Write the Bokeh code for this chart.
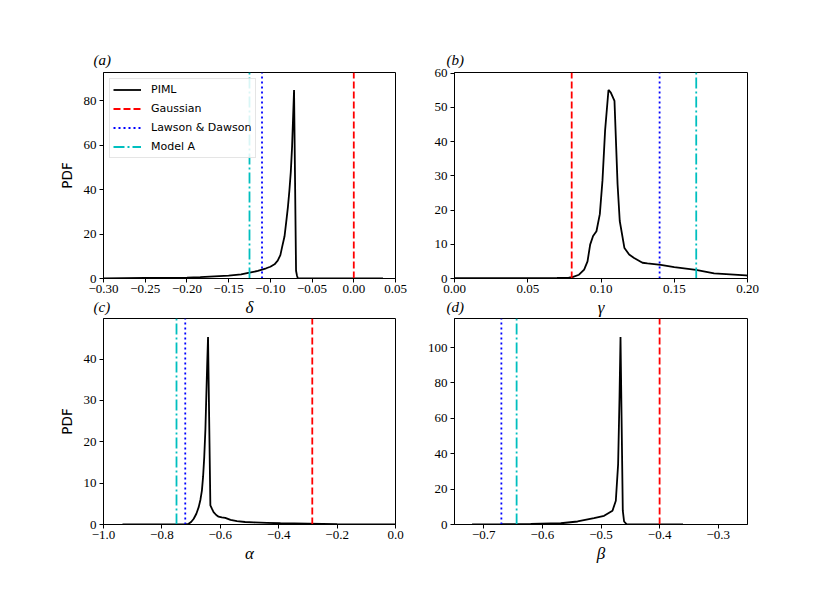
from bokeh.plotting import figure
from bokeh.layouts import column, row
from bokeh.models import Range1d, FixedTicker
from bokeh.embed import file_html
from bokeh.resources import INLINE

# ---------------- data ----------------
# (a) delta
delta_x = [-0.30, -0.25, -0.20, -0.184, -0.15, -0.135, -0.125, -0.115, -0.11, -0.105,
           -0.10, -0.095, -0.0912, -0.088, -0.086, -0.083, -0.0808, -0.079, -0.0772,
           -0.0755, -0.074, -0.0728, -0.0716, -0.0692, -0.0682, -0.0672, -0.066,
           -0.05, 0.0, 0.035]
delta_pdf = [0.1, 0.25, 0.4, 0.6, 1.3, 1.9, 2.6, 3.4, 4.0, 4.6,
             5.3, 6.4, 8.0, 10.5, 14.0, 19.0, 26.0, 32.0, 39.5,
             48.0, 59.0, 72.0, 84.8, 3.5, 1.5, 0.2, 0.05,
             0.05, 0.05, 0.05]

# (b) gamma
gamma_x = [0.0, 0.04, 0.07, 0.078, 0.0805, 0.085, 0.0885, 0.0908, 0.0926, 0.0946,
           0.0969, 0.0992, 0.101, 0.1028, 0.1051, 0.1067, 0.1092, 0.1113, 0.1128,
           0.1160, 0.1192, 0.1226, 0.1283, 0.1317, 0.1408, 0.15, 0.1648, 0.1772,
           0.1990, 0.20]
gamma_pdf = [0.1, 0.1, 0.15, 0.25, 0.4, 1.1, 2.6, 5.0, 9.9, 12.4,
             13.8, 18.8, 28.6, 43.3, 55.1, 54.3, 51.9, 27.6, 16.8,
             8.9, 7.0, 6.0, 4.6, 4.4, 4.0, 3.3, 2.5, 1.5,
             0.9, 0.85]

# (c) alpha
alpha_x = [-0.935, -0.8, -0.72, -0.7086, -0.70, -0.691, -0.682, -0.674, -0.668, -0.663,
           -0.659, -0.655, -0.651, -0.648, -0.645, -0.642, -0.634, -0.628, -0.623,
           -0.614, -0.606, -0.595, -0.583, -0.565, -0.543, -0.515, -0.486, -0.44,
           -0.394, -0.3, -0.2, -0.1, 0.0]
alpha_pdf = [0.02, 0.03, 0.05, 0.17, 0.6, 1.4, 2.6, 4.2, 6.0, 8.2,
             11.5, 16.3, 23.0, 30.8, 38.5, 45.3, 4.6, 3.7, 3.0,
             2.3, 1.9, 1.7, 1.6, 1.1, 0.8, 0.6, 0.5, 0.4,
             0.3, 0.2, 0.1, 0.05, 0.02]

# (d) beta
beta_x = [-0.72, -0.67, -0.62, -0.5686, -0.54, -0.512, -0.4947, -0.4804, -0.4747,
          -0.4708, -0.4684, -0.4667, -0.4628, -0.4606, -0.4565, -0.45, -0.40, -0.36]
beta_pdf = [0.05, 0.2, 0.4, 0.7, 1.7, 3.6, 4.9, 7.8, 13.4,
            34.0, 72.0, 105.9, 7.8, 1.7, 0.2, 0.05, 0.02, 0.02]

# reference model values per panel (a, b, c, d)
gaussian_vals = [0.0, 0.08, -0.285, -0.40]
lawson_vals = [-0.11, 0.14, -0.72, -0.67]
modelA_vals = [-0.125, 0.165, -0.75, -0.644]

# axis ranges
x_ranges = [(-0.30, 0.05), (0.0, 0.20), (-1.0, 0.0), (-0.75, -0.25)]
y_ranges = [(0, 92.7), (0, 60.2), (0, 49.8), (0, 116.4)]

# tick values and labels
xticks_a = [-0.30, -0.25, -0.20, -0.15, -0.10, -0.05, 0.0, 0.05]
xlabels_a = ["\u22120.30", "\u22120.25", "\u22120.20", "\u22120.15", "\u22120.10", "\u22120.05", "0.00", "0.05"]
yticks_a = [0, 20, 40, 60, 80]
xticks_b = [0.0, 0.05, 0.10, 0.15, 0.20]
xlabels_b = ["0.00", "0.05", "0.10", "0.15", "0.20"]
yticks_b = [0, 10, 20, 30, 40, 50, 60]
xticks_c = [-1.0, -0.8, -0.6, -0.4, -0.2, 0.0]
xlabels_c = ["\u22121.0", "\u22120.8", "\u22120.6", "\u22120.4", "\u22120.2", "0.0"]
yticks_c = [0, 10, 20, 30, 40]
xticks_d = [-0.7, -0.6, -0.5, -0.4, -0.3]
xlabels_d = ["\u22120.7", "\u22120.6", "\u22120.5", "\u22120.4", "\u22120.3"]
yticks_d = [0, 20, 40, 60, 80, 100]

panel_tags = ["(a)", "(b)", "(c)", "(d)"]
var_names = ["\u03b4", "\u03b3", "\u03b1", "\u03b2"]
series_names = ["PIML", "Gaussian", "Lawson & Dawson", "Model A"]

SERIF = "Liberation Serif"
FH = 206


def make_panel(i, xs, ys, xticks, xlabels, yticks, fw, bl, br, bt, bb,
               ylabel=None, legend=False, tag_dx=-10, tag_standoff=9, transparent=False):
    xr, yr = x_ranges[i], y_ranges[i]
    p = figure(frame_width=fw, frame_height=FH,
               min_border_left=bl, min_border_right=br,
               min_border_top=bt, min_border_bottom=bb,
               x_range=Range1d(*xr), y_range=Range1d(*yr),
               output_backend="svg", toolbar_location=None)
    p.grid.visible = False
    p.background_fill_color = "white"
    p.border_fill_color = None if transparent else "white"
    p.outline_line_color = "black"
    p.outline_line_width = 1
    p.outline_line_alpha = 1

    kw = lambda name: {"legend_label": name} if legend else {}
    p.line(xs, ys, line_color="black", line_width=1.8, **kw(series_names[0]))
    p.segment(x0=[gaussian_vals[i]], y0=[yr[0]], x1=[gaussian_vals[i]], y1=[yr[1]],
              line_color="#ff0000", line_width=1.8, line_dash="7 3", **kw(series_names[1]))
    p.segment(x0=[lawson_vals[i]], y0=[yr[0]], x1=[lawson_vals[i]], y1=[yr[1]],
              line_color="#0000ff", line_width=1.8, line_dash="2 3", **kw(series_names[2]))
    p.segment(x0=[modelA_vals[i]], y0=[yr[0]], x1=[modelA_vals[i]], y1=[yr[1]],
              line_color="#00bfbf", line_width=1.8, line_dash="11 3 2 3", **kw(series_names[3]))

    p.xaxis.ticker = FixedTicker(ticks=xticks)
    p.xaxis.major_label_overrides = {float(t): l for t, l in zip(xticks, xlabels)}
    p.yaxis.ticker = FixedTicker(ticks=yticks)
    for ax in (p.xaxis[0], p.yaxis[0]):
        ax.minor_tick_line_color = None
        ax.major_tick_in = 0
        ax.major_tick_out = 4
        ax.major_tick_line_color = "black"
        ax.axis_line_color = "black"
        ax.major_label_text_font = SERIF
        ax.major_label_text_font_size = "13px"
        ax.major_label_text_color = "black"
        ax.major_label_standoff = 2
    p.yaxis.major_label_standoff = 3

    if ylabel:
        p.yaxis.axis_label = ylabel
        p.yaxis.axis_label_text_font = "DejaVu Sans"
        p.yaxis.axis_label_text_font_style = "normal"
        p.yaxis.axis_label_text_font_size = "13.5px"
        p.yaxis.axis_label_text_color = "black"
        p.yaxis.axis_label_standoff = 6

    p.xaxis.axis_label = var_names[i]
    p.xaxis.axis_label_text_font = SERIF
    p.xaxis.axis_label_text_font_style = "italic"
    p.xaxis.axis_label_text_font_size = "17px"
    p.xaxis.axis_label_text_color = "black"
    p.xaxis.axis_label_standoff = 2

    p.title.text = panel_tags[i]
    p.title.align = "left"
    p.title.offset = tag_dx
    p.title.standoff = tag_standoff
    p.title.text_font = SERIF
    p.title.text_font_style = "italic"
    p.title.text_font_size = "15px"
    p.title.text_color = "black"

    if legend:
        lg = p.legend[0]
        lg.location = "top_left"
        lg.margin = 6
        lg.padding = 3
        lg.spacing = 4
        lg.glyph_width = 28
        lg.glyph_height = 15
        lg.label_height = 15
        lg.label_standoff = 10
        lg.label_text_font = "DejaVu Sans"
        lg.label_text_font_size = "11px"
        lg.label_text_color = "black"
        lg.border_line_color = "#cccccc"
        lg.border_line_width = 1
        lg.background_fill_alpha = 0.85
    return p


pa = make_panel(0, delta_x, delta_pdf, xticks_a, xlabels_a, yticks_a, 292, 103, 25, 72, 44,
                ylabel="PDF", legend=True, tag_dx=-10, tag_standoff=9)
pb = make_panel(1, gamma_x, gamma_pdf, xticks_b, xlabels_b, yticks_b, 293, 34, 20, 72, 44,
                tag_dx=-8, tag_standoff=9)
pc = make_panel(2, alpha_x, alpha_pdf, xticks_c, xlabels_c, yticks_c, 292, 103, 25, 27, 46,
                ylabel="PDF", tag_dx=-10, tag_standoff=8, transparent=True)
pd = make_panel(3, beta_x, beta_pdf, xticks_d, xlabels_d, yticks_d, 293, 34, 20, 27, 46,
                tag_dx=-8, tag_standoff=8, transparent=True)

# lower row overlaps the bottom margin of the upper row (as in the original figure)
layout = column(row(pa, pb), row(pc, pd, margin=(-31, 0, 0, 0)))
open("out.html", "w").write(file_html(layout, INLINE))
